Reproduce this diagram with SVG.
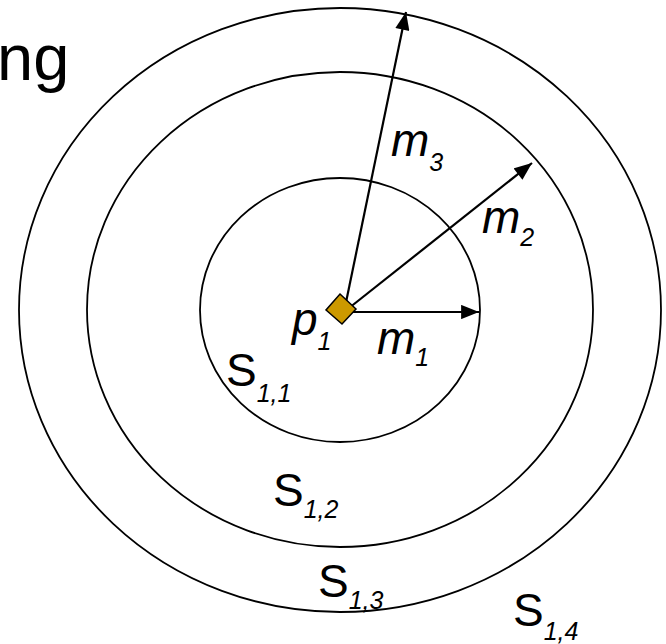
<svg xmlns="http://www.w3.org/2000/svg" width="666" height="644" viewBox="0 0 666 644">
<style>
.ring{fill:none;stroke:#000;stroke-width:1.8}
.arr{fill:none;stroke:#000;stroke-width:2.2;marker-end:url(#ah)}
.lbl{font-family:"Liberation Sans",Arial,sans-serif;font-style:italic;font-size:46px;fill:#000}
.sub{font-size:25px}
.up{font-style:normal}
</style>
<defs>
<marker id="ah" viewBox="0 0 10 8" refX="10" refY="4" markerWidth="8.5" markerHeight="6.5" orient="auto" markerUnits="strokeWidth">
<path d="M0,0 L10,4 L0,8 Z" fill="#000"/>
</marker>
</defs>
<rect width="666" height="644" fill="#fff"/>
<text x="-3" y="80" font-family="'Liberation Sans',Arial,sans-serif" font-size="65" fill="#000">ng</text>
<g id="ring-outer"><ellipse class="ring" cx="340" cy="310" rx="321" ry="302"/></g>
<g id="ring-middle"><ellipse class="ring" cx="340" cy="309.5" rx="253" ry="237.5"/></g>
<g id="ring-inner"><ellipse class="ring" cx="340" cy="310" rx="140" ry="132"/></g>
<g id="connectors">
<line class="arr" x1="344" y1="312" x2="479" y2="312"/>
<line class="arr" x1="344" y1="312" x2="532" y2="163"/>
<line class="arr" x1="344" y1="312" x2="406" y2="12"/>
</g>
<g id="p1-point"><polygon points="340,294 356,309 342,324 326,310" fill="#CC9900" stroke="#000" stroke-width="1.5"/></g>
<g id="label-m3"><text class="lbl" x="391" y="156">m<tspan class="sub" dy="15">3</tspan></text></g>
<g id="label-m2"><text class="lbl" x="482" y="233">m<tspan class="sub" dy="13">2</tspan></text></g>
<g id="label-m1"><text class="lbl" x="377" y="354">m<tspan class="sub" dy="12">1</tspan></text></g>
<g id="label-p1"><text class="lbl" x="292" y="335">p<tspan class="sub" dy="15">1</tspan></text></g>
<g id="label-s11"><text class="lbl" x="226" y="386"><tspan class="up">S</tspan><tspan class="sub" dy="16">1,1</tspan></text></g>
<g id="label-s12"><text class="lbl" x="273" y="506"><tspan class="up">S</tspan><tspan class="sub" dy="12">1,2</tspan></text></g>
<g id="label-s13"><text class="lbl" x="318" y="597"><tspan class="up">S</tspan><tspan class="sub" dy="12">1,3</tspan></text></g>
<g id="label-s14"><text class="lbl" x="513" y="626"><tspan class="up">S</tspan><tspan class="sub" dy="14">1,4</tspan></text></g>
</svg>
